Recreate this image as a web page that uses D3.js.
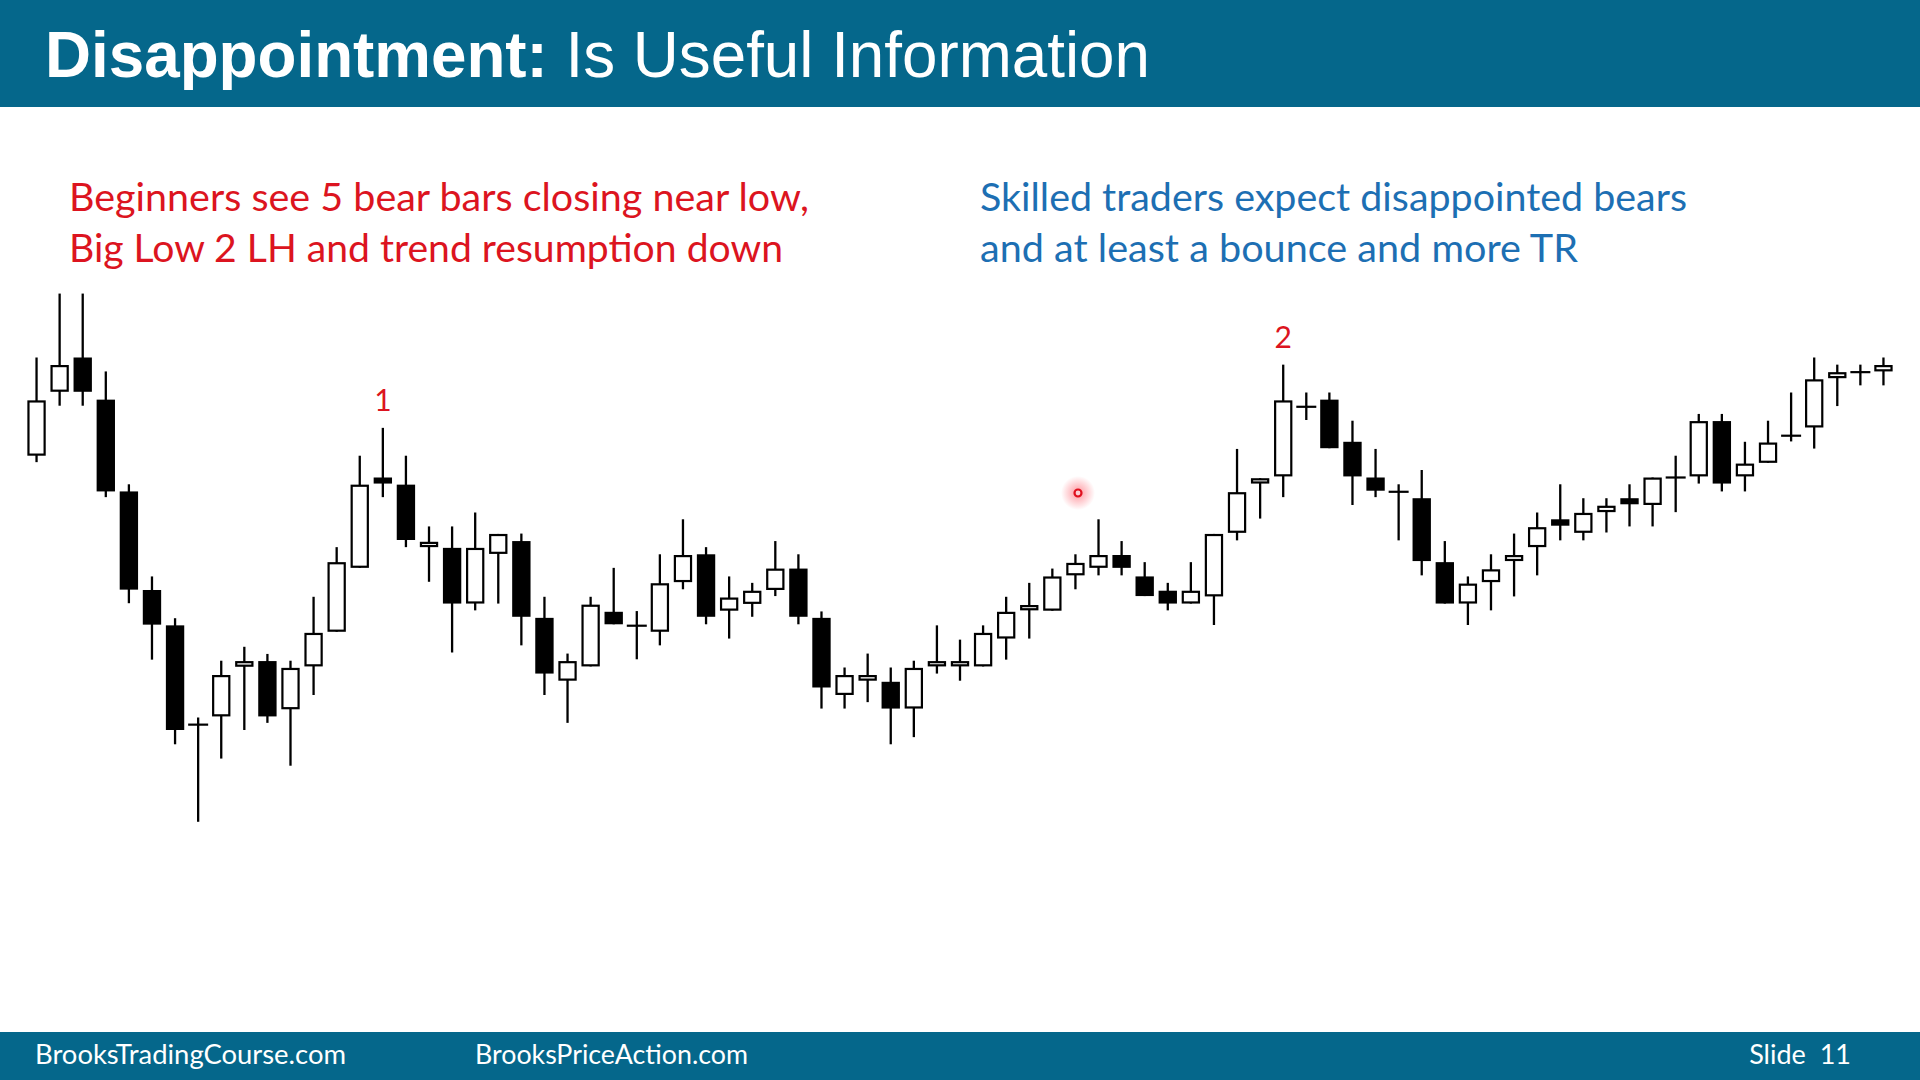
<!DOCTYPE html>
<html>
<head>
<meta charset="utf-8">
<script src="https://cdn.jsdelivr.net/npm/d3@7"></script>
<style>
  html, body { margin: 0; padding: 0; background: #fff; }
  svg { display: block; }
</style>
</head>
<body>
<div id="slide"></div>
<script>
// bar data (arbitrary price units)
const opens  = [1076,1255,1351,1233,976,700,601,323,346,485,501,366,486,583,762,1015,995,820,818,662,801,837,622,446,486,639,600,583,722,800,642,661,700,760,622,406,446,443,368,486,486,486,564,643,642,741,762,798,738,698,662,682,860,998,1018,1213,1233,1115,1015,975,957,778,662,722,781,820,898,860,918,957,938,1015,1018,1173,1018,1056,1132,1155,1293,1310,1312];
const highs  = [1351,1530,1530,1312,996,738,621,343,502,541,521,502,681,820,1076,1154,1076,878,878,917,857,858,681,522,681,762,641,800,898,820,738,720,837,800,640,483,522,483,502,601,561,601,681,720,760,800,898,837,778,720,778,857,1095,1013,1331,1253,1253,1174,1095,996,1036,837,738,800,858,917,996,957,957,996,1015,1076,1193,1193,1115,1174,1253,1351,1331,1331,1351];
const lows   = [1058,1216,1216,960,663,505,268,51,228,308,328,208,406,583,762,960,820,723,525,643,662,545,406,328,486,604,506,545,702,604,564,625,683,604,368,368,386,268,288,466,446,486,505,564,642,702,741,741,683,643,662,602,839,900,960,1176,1097,938,960,839,741,662,602,643,682,741,839,839,861,878,878,918,998,976,976,1056,1116,1096,1215,1273,1273];
const closes = [1231,1330,1255,976,701,603,308,323,462,501,346,482,580,778,995,998,840,835,662,818,857,625,466,501,659,604,600,719,798,625,679,698,760,625,427,462,462,368,482,501,501,580,639,658,738,776,798,762,683,662,698,857,974,1013,1231,1213,1097,1018,978,975,781,662,718,758,798,876,880,916,936,940,1015,1015,1173,998,1054,1113,1132,1290,1310,1310,1330];

// numbered swing highs (bar index, label)
const swingBars = [15, 54];
const swingLabels = ["1", "2"];

const titleBold = "Disappointment:";
const titleRest = " Is Useful Information";
const beginnersLines = ["Beginners see 5 bear bars closing near low,", "Big Low 2 LH and trend resumption down"];
const skilledLines = ["Skilled traders expect disappointed bears", "and at least a bounce and more TR"];
const footerLinks = ["BrooksTradingCourse.com", "BrooksPriceAction.com"];
const slideLabel = "Slide  11";

const width = 1920, height = 1080;
const teal = "#05678b";
const red = "#dc1420";
const blue = "#1d6fb3";

const svg = d3.select("#slide")
    .append("svg")
    .attr("width", width)
    .attr("height", height);

svg.append("rect").attr("width", width).attr("height", height).attr("fill", "#fff");

// header band
svg.append("rect").attr("x", 0).attr("y", 0).attr("width", width).attr("height", 107).attr("fill", teal);
const title = svg.append("text")
    .attr("x", 45)
    .attr("y", 77)
    .attr("fill", "#fff")
    .attr("textLength", 1105)
    .attr("lengthAdjust", "spacingAndGlyphs")
    .style("font-family", "'Liberation Sans', Arial, sans-serif")
    .style("font-size", "64px");
title.append("tspan").attr("font-weight", "bold").text(titleBold);
title.append("tspan").text(titleRest);

// the two comments
function block(lines, x, lens, colour) {
    svg.selectAll(null)
        .data(lines)
        .enter()
        .append("text")
        .attr("x", x)
        .attr("y", (d, i) => 211 + i * 51)
        .attr("fill", colour)
        .attr("textLength", (d, i) => lens[i])
        .attr("lengthAdjust", "spacingAndGlyphs")
        .style("font-family", "Lato, sans-serif")
        .style("font-size", "39px")
        .text(d => d);
}
block(beginnersLines, 69, [740, 714], red);
block(skilledLines, 980, [707, 598], blue);

// candles
const bars = opens.map((o, i) => ({ i: i, o: o, h: highs[i], l: lows[i], c: closes[i] }));

const x = d3.scaleBand()
    .domain(d3.range(bars.length))
    .range([25, 1895])
    .paddingInner(0.3)
    .paddingOuter(0.15);
const y = d3.scaleLinear()
    .domain([0, 1568])
    .range([840, 280]);

const bw = x.bandwidth();
const cx = d => x(d.i) + bw / 2;

const chart = svg.append("g").attr("class", "candles");

chart.selectAll(".wick")
    .data(bars)
    .enter()
    .append("line")
    .attr("class", "wick")
    .attr("x1", cx).attr("x2", cx)
    .attr("y1", d => y(d.h))
    .attr("y2", d => y(d.l))
    .attr("stroke", "#000")
    .attr("stroke-width", 2.3);

chart.selectAll(".body")
    .data(bars.filter(d => d.o !== d.c))
    .enter()
    .append("rect")
    .attr("class", "body")
    .attr("x", d => x(d.i))
    .attr("width", bw)
    .attr("y", d => y(Math.max(d.o, d.c)) + 1.1)
    .attr("height", d => Math.max(y(Math.min(d.o, d.c)) - y(Math.max(d.o, d.c)) - 2.2, 0.8))
    .attr("fill", d => d.c > d.o ? "#fff" : "#000")
    .attr("stroke", "#000")
    .attr("stroke-width", 2.2);

chart.selectAll(".doji")
    .data(bars.filter(d => d.o === d.c))
    .enter()
    .append("line")
    .attr("class", "doji")
    .attr("x1", d => cx(d) - 10)
    .attr("x2", d => cx(d) + 10)
    .attr("y1", d => y(d.o))
    .attr("y2", d => y(d.o))
    .attr("stroke", "#000")
    .attr("stroke-width", 2.2);

chart.selectAll(".swing")
    .data(swingBars)
    .enter()
    .append("text")
    .attr("class", "swing")
    .attr("x", d => cx(bars[d]))
    .attr("y", d => y(bars[d].h) - 17)
    .attr("text-anchor", "middle")
    .attr("fill", red)
    .style("font-family", "Lato, sans-serif")
    .style("font-size", "30px")
    .text((d, i) => swingLabels[i]);

// laser pointer spot
const glow = svg.append("defs").append("radialGradient").attr("id", "glow");
glow.append("stop").attr("offset", "0%").attr("stop-color", "#ff3040").attr("stop-opacity", 0.5);
glow.append("stop").attr("offset", "100%").attr("stop-color", "#ff3040").attr("stop-opacity", 0);
svg.append("circle").attr("cx", 1078).attr("cy", 493).attr("r", 17).attr("fill", "url(#glow)");
svg.append("circle").attr("cx", 1078).attr("cy", 493).attr("r", 3.5)
    .attr("fill", "#fbd0d4").attr("stroke", "#e0101e").attr("stroke-width", 2.2);

// footer band
svg.append("rect").attr("x", 0).attr("y", 1032).attr("width", width).attr("height", 48).attr("fill", teal);
svg.selectAll(".foot")
    .data(footerLinks)
    .enter()
    .append("text")
    .attr("class", "foot")
    .attr("x", (d, i) => [35, 475][i])
    .attr("y", 1064)
    .attr("fill", "#fff")
    .attr("textLength", (d, i) => [311, 273][i])
    .attr("lengthAdjust", "spacingAndGlyphs")
    .style("font-family", "Lato, sans-serif")
    .style("font-size", "27px")
    .text(d => d);
svg.append("text")
    .attr("x", 1851)
    .attr("y", 1064)
    .attr("text-anchor", "end")
    .attr("fill", "#fff")
    .style("font-family", "Lato, sans-serif")
    .style("font-size", "27px")
    .style("white-space", "pre")
    .text(slideLabel);
</script>
</body>
</html>
